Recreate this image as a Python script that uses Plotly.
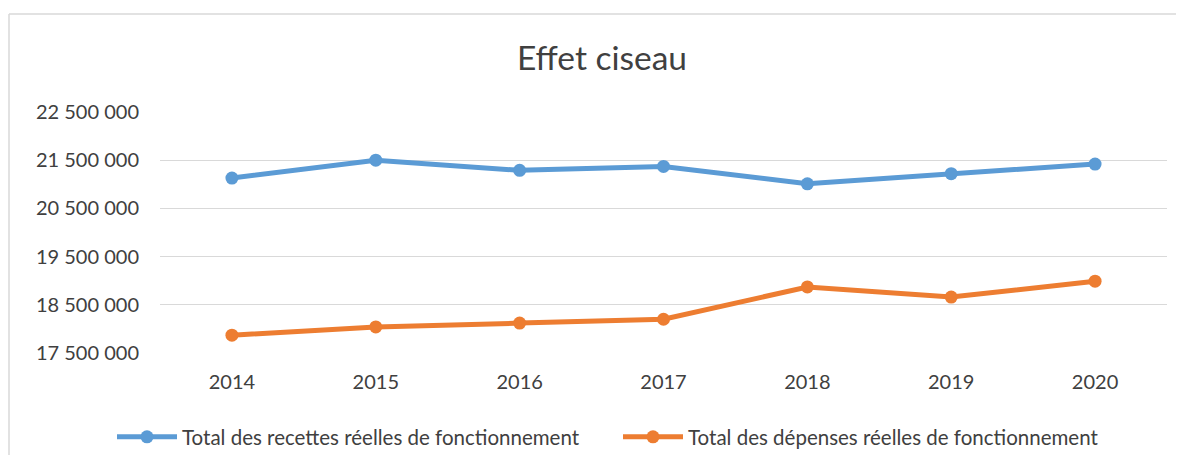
import plotly.graph_objects as go

years = ["2014", "2015", "2016", "2017", "2018", "2019", "2020"]
recettes = [21130000, 21500000, 21290000, 21370000, 21010000, 21220000, 21420000]
depenses = [17870000, 18040000, 18120000, 18200000, 18870000, 18660000, 18990000]
name_rec = "Total des recettes réelles de fonctionnement"
name_dep = "Total des dépenses réelles de fonctionnement"
title_text = "Effet ciseau"
y_ticks = [17500000, 18500000, 19500000, 20500000, 21500000, 22500000]
y_tick_labels = ["{:,}".format(v).replace(",", " ") for v in y_ticks]

FONT = "Lato"
BLUE = "#5B9BD5"
ORANGE = "#ED7D31"
GRID = "#D9D9D9"
TXT = "#404040"

W, H = 1168, 447
L, R, T, B = 152, 9, 104, 102
PW, PH = W - L - R, H - T - B

fig = go.Figure()
fig.add_trace(go.Scatter(x=years, y=recettes, name=name_rec, mode="lines+markers", legend="legend",
                         line=dict(color=BLUE, width=5), marker=dict(size=13, color=BLUE)))
fig.add_trace(go.Scatter(x=years, y=depenses, name=name_dep, mode="lines+markers", legend="legend2",
                         line=dict(color=ORANGE, width=5), marker=dict(size=13, color=ORANGE)))

leg_common = dict(orientation="h", xref="container", yref="container", xanchor="left",
                  y=1 - 429 / H, yanchor="middle", font=dict(family=FONT, size=20.5, color=TXT),
                  itemwidth=60, bgcolor="rgba(0,0,0,0)")

fig.update_layout(
    width=W, height=H,
    margin=dict(l=L, r=R, t=T, b=B),
    paper_bgcolor="white", plot_bgcolor="white",
    font=dict(family=FONT, color=TXT, size=20),
    title=dict(text=title_text, x=594 / W, xanchor="center", y=1 - 50 / H, yanchor="middle",
               font=dict(family=FONT, size=33.5, color=TXT)),
    showlegend=True,
    legend=dict(x=104 / W, **leg_common),
    legend2=dict(x=610 / W, **leg_common),
    xaxis=dict(type="category", range=[-0.5, 6.5], showgrid=False, showline=False, zeroline=False,
               ticks="", ticklabelstandoff=15, tickfont=dict(size=20, color=TXT)),
    yaxis=dict(range=[17500000, 22500000], tickvals=y_ticks, ticktext=y_tick_labels,
               showgrid=True, gridcolor=GRID, gridwidth=1.2, zeroline=False, showline=False,
               ticks="", ticklabelstandoff=20, tickfont=dict(size=20, color=TXT)),
    shapes=[
        dict(type="line", xref="paper", yref="paper", x0=(1 - L) / PW, x1=(W - L) / PW,
             y0=(PH + T - 6) / PH, y1=(PH + T - 6) / PH, line=dict(color=GRID, width=1.5)),
        dict(type="line", xref="paper", yref="paper", x0=(1 - L) / PW, x1=(1 - L) / PW,
             y0=(PH + T - 6) / PH, y1=-B / PH, line=dict(color=GRID, width=1.5)),
    ],
)

fig.write_html("out.html")
